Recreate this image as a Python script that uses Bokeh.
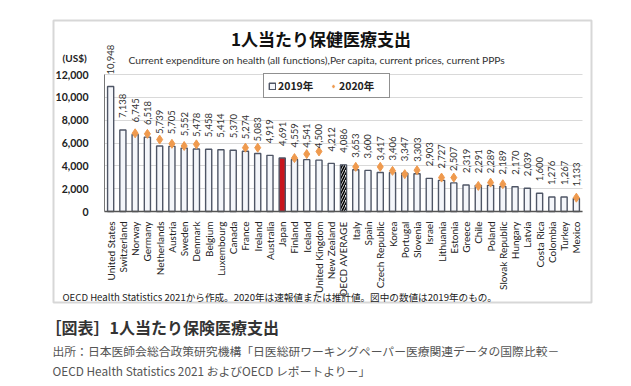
import math
from bokeh.plotting import figure
from bokeh.models import (ColumnDataSource, FixedTicker, NumeralTickFormatter,
                          LabelSet, Label, BoxAnnotation, Range1d)
from bokeh.core.properties import value
from bokeh.embed import file_html
from bokeh.resources import INLINE

# ---------------- data ----------------
countries = ["United States", "Switzerland", "Norway", "Germany", "Netherlands", "Austria",
             "Sweden", "Denmark", "Belgium", "Luxembourg", "Canada", "France", "Ireland",
             "Australia", "Japan", "Finland", "Iceland", "United Kingdom", "New Zealand",
             "OECD AVERAGE", "Italy", "Spain", "Czech Republic", "Korea", "Portugal",
             "Slovenia", "Israel", "Lithuania", "Estonia", "Greece", "Chile", "Poland",
             "Slovak Republic", "Hungary", "Latvia", "Costa Rica", "Colombia", "Turkey",
             "Mexico"]
exp_2019 = [10948, 7138, 6745, 6518, 5739, 5705, 5552, 5478, 5458, 5414, 5370, 5274, 5083,
            4919, 4691, 4559, 4541, 4500, 4212, 4086, 3653, 3600, 3417, 3406, 3347, 3303,
            2903, 2727, 2507, 2319, 2291, 2289, 2189, 2170, 2039, 1600, 1276, 1267, 1133]
# 2020: preliminary / estimated values (None = not shown)
exp_2020 = [None, None, 6850, 6800, 6300, 5930, 5740, 5880, None, None, None, 5590, 5590,
            None, None, 4680, 5030, 5260, None, None, 3910, None, 3910, 3560, 3270, 3620,
            None, 2970, 2970, None, 2240, 2530, 2390, None, None, None, None, None, 1210]
y_ticks = [0, 2000, 4000, 6000, 8000, 10000, 12000]
y_min, y_max = 0, 12000
highlight_country = "Japan"
average_label = "OECD AVERAGE"

# ---------------- derived columns ----------------
idx = list(range(len(countries)))
fills = ["#c8161d" if c == highlight_country else "#f4f6fa" for c in countries]
hatches = ["right_diagonal_line" if c == average_label else " " for c in countries]
labels = [f"{v:,}" for v in exp_2019]
v2020 = [float("nan") if v is None else v for v in exp_2020]

src = ColumnDataSource(dict(x=idx, country=countries, v2019=exp_2019, v2020=v2020,
                            fill=fills, hatch=hatches, label=labels))

n = len(countries)
W, H = 625, 380
# plot frame covers the whole canvas; the chart area sits inside it
p = figure(x_range=Range1d(-8.986, 42.01), y_range=Range1d(-14803, 18482),
           frame_width=W, frame_height=H,
           min_border_left=0, min_border_right=0, min_border_top=0, min_border_bottom=0,
           output_backend="svg", toolbar_location=None,
           background_fill_color="white", border_fill_color="white")
p.outline_line_color = None

bars = p.vbar(x="x", top="v2019", source=src, width=0.5,
              fill_color="fill", line_color="#4f5666", line_width=1.4,
              hatch_pattern="hatch", hatch_color="black", hatch_scale=5, hatch_weight=1.6,
              legend_label="2019年")
dots = p.scatter(x="x", y="v2020", source=src, marker="diamond", size=9,
                 fill_color="#ef9a4e", line_color="#ef9a4e", legend_label="2020年")

p.add_layout(LabelSet(x="x", y="v2019", text="label", source=src, angle=math.pi / 2,
                      text_align="left", text_baseline="middle", y_offset=12,
                      text_font=value("Lato"), text_font_size="9.5px", text_color="#333333"))

# axes (placed inside the frame)
p.yaxis.fixed_location = -0.5
p.yaxis.bounds = (y_min, y_max)
p.yaxis.ticker = FixedTicker(ticks=y_ticks)
p.yaxis.formatter = NumeralTickFormatter(format="0,0")
p.yaxis.major_label_text_font = "Lato"
p.yaxis.major_label_text_font_size = "10.5px"
p.yaxis.major_label_text_font_style = "bold"
p.yaxis.major_label_text_color = "#222222"
p.yaxis.major_label_standoff = 10
p.yaxis.major_tick_line_color = None
p.yaxis.minor_tick_line_color = None
p.yaxis.axis_line_color = "#777777"

p.xaxis.fixed_location = 0
p.xaxis.bounds = (-0.5, n - 0.5)
p.xaxis.ticker = FixedTicker(ticks=idx)
p.xaxis.major_label_overrides = {i: c for i, c in zip(idx, countries)}
p.xaxis.major_label_orientation = math.pi / 2
p.xaxis.major_label_text_font = "Lato"
p.xaxis.major_label_text_font_size = "10px"
p.xaxis.major_label_text_color = "#222222"
p.xaxis.major_label_standoff = 4
p.xaxis.major_tick_line_color = None
p.xaxis.minor_tick_line_color = None
p.xaxis.axis_line_color = "#555555"
p.xaxis.axis_line_width = 1.5

p.xgrid.grid_line_color = None
p.ygrid.ticker = FixedTicker(ticks=y_ticks)
p.ygrid.bounds = (y_min, y_max)
p.ygrid.cross_bounds = (-0.5, n - 0.5)
p.ygrid.grid_line_color = "#d9d9d9"

# legend
lg = p.legend[0]
lg.orientation = "horizontal"
lg.location = (263, 282)
lg.border_line_color = "#222222"
lg.border_line_width = 1
lg.background_fill_alpha = 1
lg.padding = 4
lg.spacing = 5
lg.margin = 0
lg.glyph_width = 8
lg.glyph_height = 8
lg.label_standoff = 2
lg.label_width = 46
lg.label_height = 10
lg.label_text_font = "Noto Sans CJK JP"
lg.label_text_font_size = "10.5px"
lg.label_text_font_style = "bold"
lg.label_text_color = "#222222"

# outer frame box
p.add_layout(BoxAnnotation(left=53, right=591, bottom=78, top=360,
                           left_units="screen", right_units="screen",
                           top_units="screen", bottom_units="screen",
                           fill_alpha=0, line_color="#7a7a7a", line_width=2))

def txt(text, x, y, size, font="Noto Sans CJK JP", style="normal", color="#222222",
        align="left"):
    p.add_layout(Label(x=x, y=y, x_units="screen", y_units="screen", text=text,
                       text_font=font, text_font_size=size, text_font_style=style,
                       text_color=color, text_align=align, text_baseline="middle"))

txt("1人当たり保健医療支出", 320.5, 342, "17px", style="bold", color="#111111", align="center")
txt("Current expenditure on health (all functions),Per capita, current prices, current PPPs",
    128, 321, "10.3px", font="Lato", color="#333333")
txt("(US$)", 62, 323, "10px", font="Lato", style="bold")
txt("OECD Health Statistics 2021から作成。2020年は速報値または推計値。図中の数値は2019年のもの。",
    62, 84, "9.6px")
txt("［図表］1人当たり保険医療支出", 45, 54, "16px", style="bold", color="#333333")
txt("出所：日本医師会総合政策研究機構「日医総研ワーキングペーパー医療関連データの国際比較－",
    52, 30, "11.8px", color="#555555")
txt("OECD Health Statistics 2021 およびOECD レポートよりー」",
    52, 10, "11.8px", color="#555555")

open("out.html", "w").write(file_html(p, INLINE))
